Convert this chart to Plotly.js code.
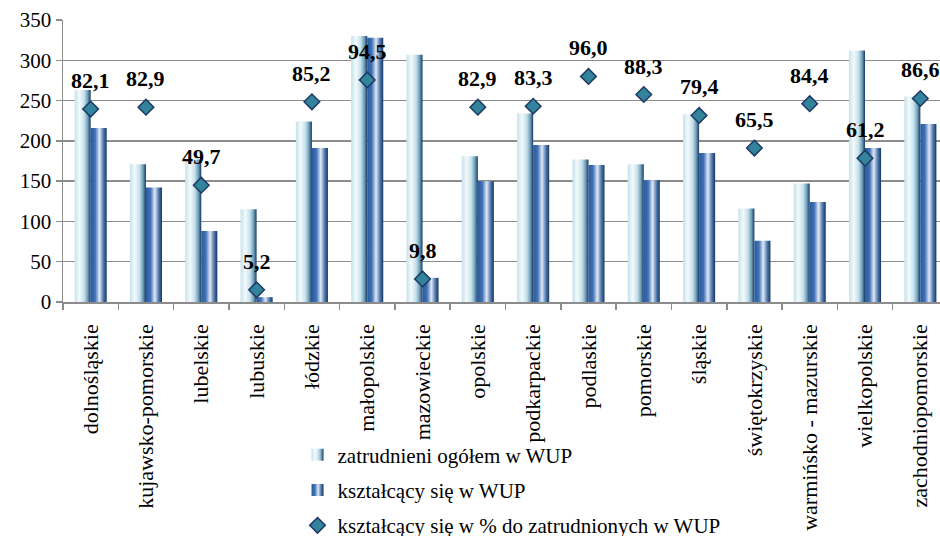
<!DOCTYPE html>
<html>
<head>
<meta charset="utf-8">
<script src="https://cdn.plot.ly/plotly-3.0.1.min.js"></script>
<style>
  html, body { margin: 0; padding: 0; overflow: hidden; background: #ffffff; }
  #chart { width: 960px; height: 536px; }
</style>
</head>
<body>
<svg width="0" height="0" style="position:absolute">
  <defs>
    <linearGradient id="gLight" x1="0" y1="0" x2="1" y2="0">
      <stop offset="0" stop-color="#c4e2ec"/>
      <stop offset="0.3" stop-color="#f3fafc"/>
      <stop offset="0.6" stop-color="#c4e0ea"/>
      <stop offset="0.82" stop-color="#6f9dba"/>
      <stop offset="1" stop-color="#17375e"/>
    </linearGradient>
    <linearGradient id="gDark" x1="0" y1="0" x2="1" y2="0">
      <stop offset="0" stop-color="#2a5a9a"/>
      <stop offset="0.28" stop-color="#3f71b7"/>
      <stop offset="0.55" stop-color="#e0e9f4"/>
      <stop offset="0.8" stop-color="#4e77ae"/>
      <stop offset="1" stop-color="#17375e"/>
    </linearGradient>
  </defs>
</svg>
<div id="chart"></div>
<script>
// ---- data ----
const categories = ["dolnośląskie", "kujawsko-pomorskie", "lubelskie", "lubuskie", "łódzkie",
  "małopolskie", "mazowieckie", "opolskie", "podkarpackie", "podlaskie", "pomorskie",
  "śląskie", "świętokrzyskie", "warmińsko - mazurskie", "wielkopolskie", "zachodniopomorskie"];
const zatrudnieni = [263, 171, 177, 115, 224, 330, 307, 181, 234, 177, 171, 233, 116, 147, 312, 255];
const ksztalcacy  = [216, 142, 88, 6, 191, 328, 30, 150, 195, 170, 151, 185, 76, 124, 191, 221];
const procent     = [82.1, 82.9, 49.7, 5.2, 85.2, 94.5, 9.8, 82.9, 83.3, 96.0, 88.3, 79.4, 65.5, 84.4, 61.2, 86.6];
const seriesNames = ["zatrudnieni ogółem w WUP", "kształcący się w WUP", "kształcący się w % do zatrudnionych w WUP"];
const yTicks = [0, 50, 100, 150, 200, 250, 300, 350];

const FONT = "Liberation Serif";
const GRID = "#8c8c8c";

const traces = [
  { type: "bar", name: seriesNames[0], x: categories, y: zatrudnieni,
    marker: { color: "#c7e3ec", line: { width: 0 } }, legendgroup: "a", hoverinfo: "skip" },
  { type: "bar", name: seriesNames[1], x: categories, y: ksztalcacy,
    marker: { color: "#3f6fb0", line: { width: 0 } }, legendgroup: "b", hoverinfo: "skip" },
  { type: "scatter", mode: "markers", name: seriesNames[2], x: categories, y: procent, yaxis: "y2",
    marker: { symbol: "diamond", size: 12, color: "#31849b", line: { color: "#1f3864", width: 1.5 } },
    legendgroup: "c", hoverinfo: "skip" }
];

const annotations = categories.map((c, i) => ({
  x: c, y: procent[i], xref: "x", yref: "y2",
  text: procent[i].toFixed(1).replace(".", ","),
  showarrow: false, yanchor: "bottom", yshift: 14,
  font: { family: FONT, size: 22, color: "#000000", weight: 700 }
}));

const layout = {
  width: 960, height: 536,
  margin: { l: 63, r: 12, t: 20, b: 234, autoexpand: false },
  paper_bgcolor: "#ffffff", plot_bgcolor: "#ffffff",
  barmode: "group", bargap: 0.42, bargroupgap: 0,
  font: { family: FONT, size: 21, color: "#000000" },
  showlegend: true,
  legend: {
    x: 0.265, y: -0.47, xanchor: "left", yanchor: "top",
    bgcolor: "rgba(0,0,0,0)", traceorder: "grouped", tracegroupgap: 5,
    font: { family: FONT, size: 21, color: "#000000" }
  },
  xaxis: {
    type: "category", range: [-0.5, categories.length - 0.5],
    tickangle: -90, tickson: "boundaries", dtick: 1,
    ticks: "outside", ticklen: 6, tickcolor: GRID, tickwidth: 1.5,
    showline: true, linecolor: GRID, linewidth: 1.5, automargin: false,
    showgrid: false, ticklabelstandoff: 12,
    tickfont: { family: FONT, size: 22, color: "#000000" }
  },
  yaxis: {
    range: [0, 350], tickvals: yTicks, ticktext: yTicks.map(String),
    ticks: "outside", ticklen: 6, tickcolor: GRID, tickwidth: 1.5,
    showline: true, linecolor: GRID, linewidth: 1.5, automargin: false,
    showgrid: true, gridcolor: GRID, gridwidth: 1.5, zeroline: false,
    tickfont: { family: FONT, size: 21, color: "#000000" }
  },
  yaxis2: { range: [0, 120], overlaying: "y", side: "right", visible: false, showgrid: false },
  annotations: annotations
};

Plotly.newPlot("chart", traces, layout, { staticPlot: true, displayModeBar: false }).then(() => {
  const grads = ["url(#gLight)", "url(#gDark)"];
  const barTraces = document.querySelectorAll(".barlayer .trace");
  barTraces.forEach((t, i) => {
    if (i < 2) t.querySelectorAll("path").forEach(p => { p.style.fill = grads[i]; });
  });
  document.querySelectorAll(".legend .traces").forEach(t => {
    const txt = t.querySelector(".legendtext");
    if (!txt) return;
    const idx = seriesNames.indexOf(txt.textContent);
    if (idx === 0 || idx === 1) {
      t.querySelectorAll(".legendpoints path").forEach(p => { p.style.fill = grads[idx]; });
    }
  });
});
</script>
</body>
</html>
